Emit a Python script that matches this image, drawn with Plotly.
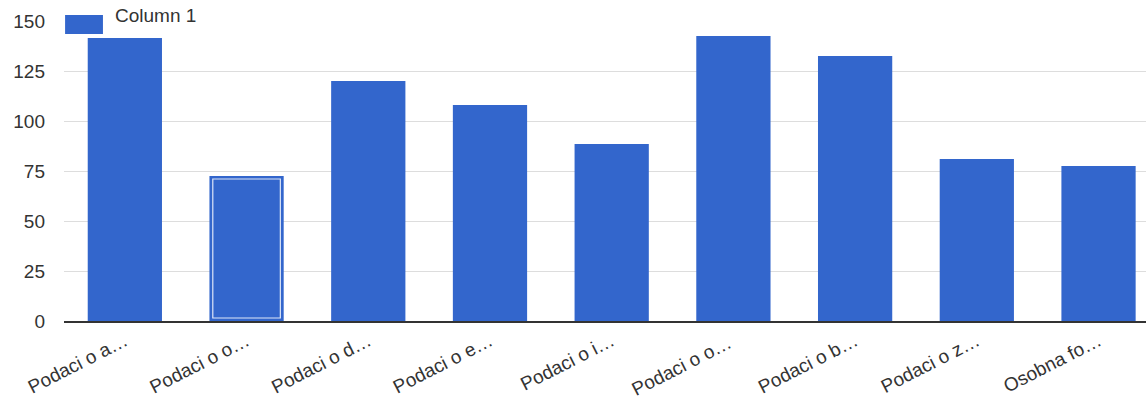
import plotly.graph_objects as go

categories = ["Podaci o a…", "Podaci o o…", "Podaci o d…", "Podaci o e…", "Podaci o i…",
              "Podaci o o… ", "Podaci o b…", "Podaci o z…", "Osobna fo…"]
values = [141.5, 72.5, 120, 108, 88.5, 142.5, 132.5, 81, 77.5]
series_name = "Column 1"
highlight_idx = 1
y_ticks = [0, 25, 50, 75, 100, 125, 150]

blue = "#3366cc"
text_col = "#333333"
font_fam = "Arial, Liberation Sans, sans-serif"

fig = go.Figure()
fig.add_trace(go.Bar(
    x=categories, y=values, name=series_name,
    marker=dict(color=blue, line=dict(width=0)),
    width=0.61, hoverinfo="x+y",
))
# hover-style highlight: inner white outline on one bar
fig.add_trace(go.Bar(
    x=[categories[highlight_idx]], y=[values[highlight_idx] - 3], base=[1.5],
    marker=dict(color=blue, line=dict(color="#dde6f7", width=1.2)),
    width=0.555, hoverinfo="skip", showlegend=False,
))

# legend drawn by hand (Google-style wide swatch)
fig.add_shape(type="rect", xref="paper", yref="paper",
              x0=0.001, x1=0.036, y0=0.957, y1=1.02,
              fillcolor=blue, line=dict(width=0))
fig.add_annotation(text=series_name, xref="paper", yref="paper",
                   x=0.0453, y=1.017, xanchor="left", yanchor="middle",
                   showarrow=False, font=dict(size=19, color=text_col, family=font_fam))

fig.update_layout(
    width=1146, height=401,
    margin=dict(l=64, r=0, t=21, b=80, autoexpand=False),
    barmode="overlay",
    paper_bgcolor="white", plot_bgcolor="white",
    showlegend=False,
    font=dict(family=font_fam, size=19, color=text_col),
    xaxis=dict(range=[-0.5, 8.39], tickangle=-27, showgrid=False, automargin=False,
               showline=True, linecolor="#333333", linewidth=1.5,
               ticks="", tickfont=dict(size=19)),
    yaxis=dict(range=[0, 150], tickvals=y_ticks, gridcolor="#dddddd", gridwidth=1,
               zeroline=False, ticks="", ticklabelstandoff=18, automargin=False,
               tickfont=dict(size=19)),
)
fig.write_html("out.html", config={"displayModeBar": False},
               post_script="document.body.style.margin='0';")
